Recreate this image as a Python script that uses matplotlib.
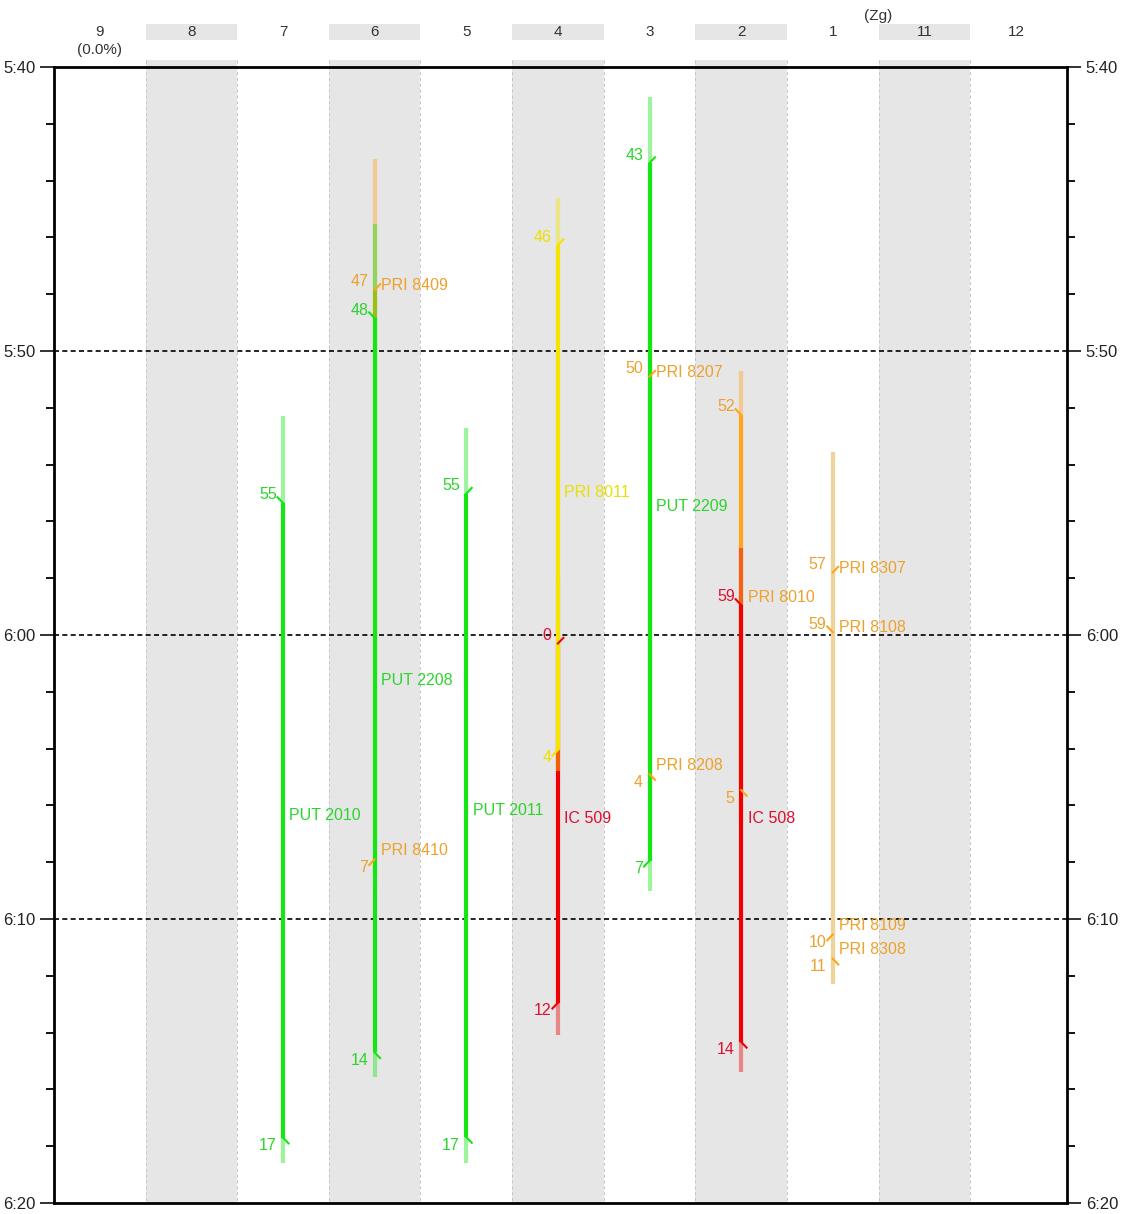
import numpy as np
import matplotlib
matplotlib.use('Agg')
import matplotlib.pyplot as plt
from matplotlib.patches import Rectangle
from matplotlib.colors import to_rgb

plt.rcParams['font.family'] = ['Liberation Sans', 'DejaVu Sans']

# tracks left to right, which ones are shaded grey
tracks = ['9', '8', '7', '6', '5', '4', '3', '2', '1', '11', '12']
shaded = [False, True, False, True, False, True, False, True, False, True, False]

# train data, times in minutes after 5:00
tr_arr_name = ['PRI 8409', 'PUT 2010', 'PUT 2011', 'PUT 2208', 'PRI 8207', 'PUT 2209',
               'IC 509', 'PRI 8011', 'PRI 8010', 'IC 508', 'PRI 8307', 'PRI 8108']
tr_dep_name = ['PRI 8410', 'PUT 2010', 'PUT 2011', 'PUT 2208', 'PRI 8208', 'PUT 2209',
               'IC 509', 'PRI 8011', 'PRI 8010', 'IC 508', 'PRI 8308', 'PRI 8109']
tr_track = ['6', '7', '5', '6', '3', '3', '4', '4', '2', '2', '1', '1']
tr_kind = ['orange', 'green', 'green', 'green', 'orange', 'green',
           'red', 'yellow', 'orange', 'red', 'orange', 'orange']
tr_start = [43.24, 52.3, 52.71, 45.53, 48.5, 41.06, 58.0, 44.6, 50.7, 56.94, 53.56, 56.0]
tr_arr = [47.85, 55.35, 55.02, 48.84, 50.9, 43.38, 60.3, 46.27, 52.25, 58.94, 57.8, 59.9]
tr_dep = [67.9, 77.7, 77.68, 74.7, 64.9, 67.95, 72.95, 64.05, 65.46, 74.33, 71.4, 70.55]
tr_end = [69.0, 78.6, 78.6, 75.56, 66.0, 69.0, 74.1, 64.8, 66.5, 75.4, 72.3, 71.5]
tr_solid = [True, True, True, True, True, True, True, True, True, True, False, False]
arr_txt = ['47', '55', '55', '48', '50', '43', '0', '46', '52', '59', '57', '59']
dep_txt = ['7', '17', '17', '14', '4', '7', '12', '4', '5', '14', '11', '10']
arr_dir = [1, -1, 1, -1, 1, 1, 1, 1, -1, -1, 1, -1]
dep_dir = [-1, 1, 1, 1, 1, -1, -1, -1, 1, 1, 1, -1]

line_col = {'green': '#14e614', 'orange': '#ffa41c', 'red': '#f00000', 'yellow': '#f5e400'}
text_col = {'green': '#2cd42c', 'orange': '#eda12c', 'red': '#dc1030', 'yellow': '#ebdf00'}
pass_col = '#d9a020'

t0, t1 = 40, 80

fig = plt.figure(figsize=(11.21, 12.14), dpi=100)
ax = fig.add_axes([54 / 1121, 11 / 1214, 1013 / 1121, 1136 / 1214])
ax.set_xlim(-0.5, len(tracks) - 0.443)
ax.set_ylim(t1, t0)

# grey bands + header
for i, name in enumerate(tracks):
    if shaded[i]:
        ax.add_patch(Rectangle((i - 0.5, 39.75), 1, t1 - 39.75, color='#e6e6e6',
                               lw=0, clip_on=False, zorder=0))
        ax.add_patch(Rectangle((i - 0.5, 38.49), 1, 0.56, color='#e6e6e6',
                               lw=0, clip_on=False, zorder=0))
        for xe in (i - 0.5, i + 0.5):
            ax.plot([xe, xe], [39.75, t1], color='#c4c4c4', lw=0.7, ls=(0, (3, 3)),
                    clip_on=False, zorder=0.5)
    ax.text(i, 38.77, name, ha='center', va='center', fontsize=11, color='#333333',
            clip_on=False)
ax.text(0, 39.4, '(0.0%)', ha='center', va='center', fontsize=11, color='#333333')
ax.text(8.5, 38.2, '(Zg)', ha='center', va='center', fontsize=11, color='#333333')

for t in (50, 60, 70):
    ax.axhline(t, color='black', lw=1.2, ls=(0, (3, 2)), zorder=1)

dx = 0.06
dt = 0.2


def light(c, a=0.45):
    r, g, b = to_rgb(c)
    return (a * r + 1 - a, a * g + 1 - a, a * b + 1 - a)


for k in range(len(tr_track)):
    x = tracks.index(tr_track[k])
    lc = line_col[tr_kind[k]]
    tc = text_col[tr_kind[k]]
    z = 2 + k * 0.01
    if tr_solid[k]:
        ax.plot([x, x], [tr_arr[k], tr_dep[k]], color=lc, lw=3,
                solid_capstyle='butt', zorder=z)
        ax.plot([x, x], [tr_start[k], tr_arr[k]], color=lc, alpha=0.42, lw=3,
                solid_capstyle='butt', zorder=z + 0.005)
        ax.plot([x, x], [tr_dep[k], tr_end[k]], color=lc, alpha=0.42, lw=3,
                solid_capstyle='butt', zorder=z + 0.005)
    else:
        ax.plot([x, x], [tr_start[k], tr_end[k]], color=light(pass_col), lw=3,
                solid_capstyle='butt', zorder=z)
    # stubs
    ax.plot([x, x + arr_dir[k] * dx], [tr_arr[k], tr_arr[k] - dt], color=lc, lw=1.5, zorder=5)
    ax.plot([x, x + dep_dir[k] * dx], [tr_dep[k], tr_dep[k] + dt], color=lc, lw=1.5, zorder=5)
    # minute labels
    ax.text(x - 0.07, tr_arr[k] - 0.28, arr_txt[k], ha='right', va='center',
            fontsize=11.5, color=tc, zorder=6)
    ax.text(x - 0.07, tr_dep[k] + 0.28, dep_txt[k], ha='right', va='center',
            fontsize=11.5, color=tc, zorder=6)
    # train names
    if tr_arr_name[k] == tr_dep_name[k]:
        tm = (tr_arr[k] + tr_dep[k]) / 2 - 0.18
        ax.text(x + 0.07, tm, tr_arr_name[k], ha='left', va='center',
                fontsize=11.5, color=tc, zorder=6)
    else:
        ax.text(x + 0.07, tr_arr[k] - 0.15, tr_arr_name[k], ha='left', va='center',
                fontsize=11.5, color=tc, zorder=6)
        ax.text(x + 0.07, tr_dep[k] - 0.32, tr_dep_name[k], ha='left', va='center',
                fontsize=11.5, color=tc, zorder=6)

# axes, ticks
major = np.arange(t0, t1 + 1, 10)
ax.set_yticks(major)
ax.set_yticklabels(['%d:%02d' % (5 + m // 60, m % 60) for m in major])
ax.set_yticks(np.arange(t0, t1 + 1, 2), minor=True)
ax.set_xticks([])
ax.tick_params(axis='y', which='major', length=10, width=1.3, labelsize=12,
               right=True, labelright=True, colors='#222222')
ax.tick_params(axis='y', which='minor', length=6, width=1.3, right=True)
for s in ax.spines.values():
    s.set_linewidth(2)
    s.set_zorder(7)

plt.savefig('out.png', dpi=100)
